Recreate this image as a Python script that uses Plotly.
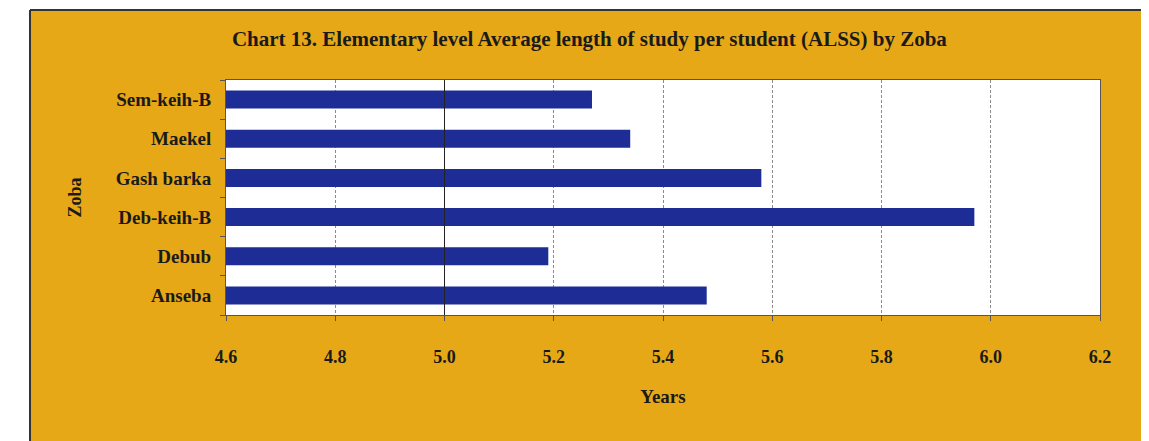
import plotly.graph_objects as go

zobas = ['Anseba', 'Debub', 'Deb-keih-B', 'Gash barka', 'Maekel', 'Sem-keih-B']
alss = [5.48, 5.19, 5.97, 5.58, 5.34, 5.27]
x_ticks = [4.6, 4.8, 5.0, 5.2, 5.4, 5.6, 5.8, 6.0, 6.2]

gold = '#E6A817'
bar_color = '#1E2C96'
serif = 'Liberation Serif'

# the page adds an 8px body margin, so the figure is offset by it
W, H = 1149, 433
ml, mr, mt, mb = 218, 57, 72, 126
pw, ph = W - ml - mr, H - mt - mb

fig = go.Figure()
fig.add_trace(go.Bar(
    x=alss,
    y=zobas,
    orientation='h',
    marker=dict(color=bar_color, line=dict(width=0)),
    width=0.46,
))

# solid reference line at 5.0
fig.add_shape(type='line', xref='x', yref='paper', x0=5.0, x1=5.0, y0=0, y1=1,
              line=dict(color='#222222', width=1))

# white page strip on the left of the scan, plus the frame edges
edge_x = (22 - ml) / pw
top_y = 1 + (mt - 2) / ph
fig.add_shape(type='rect', xref='paper', yref='paper', layer='below',
              x0=-ml / pw, x1=edge_x, y0=-mb / ph, y1=1 + mt / ph,
              fillcolor='white', line=dict(width=0))
fig.add_shape(type='rect', xref='paper', yref='paper', layer='below',
              x0=-ml / pw, x1=1 + mr / pw, y0=top_y, y1=1 + mt / ph,
              fillcolor='white', line=dict(width=0))
fig.add_shape(type='line', xref='paper', yref='paper',
              x0=edge_x, x1=edge_x, y0=-mb / ph, y1=top_y,
              line=dict(color='#333333', width=2))
fig.add_shape(type='line', xref='paper', yref='paper',
              x0=edge_x, x1=1 + mr / pw, y0=top_y, y1=top_y,
              line=dict(color='#333333', width=2))

fig.update_layout(
    width=W, height=H,
    margin=dict(l=ml, r=mr, t=mt, b=mb),
    paper_bgcolor=gold,
    plot_bgcolor='white',
    showlegend=False,
    font=dict(family=serif, color='#1a1a1a'),
    title=dict(
        text='<b>Chart 13. Elementary level Average length of study per student (ALSS) by Zoba</b>',
        x=0.506, xanchor='center', y=0.93, yanchor='middle',
        font=dict(family=serif, size=21, color='#1a1a1a'),
    ),
    xaxis=dict(
        range=[4.6, 6.2],
        tickvals=x_ticks,
        ticktext=['<b>%.1f</b>' % v for v in x_ticks],
        tickfont=dict(family=serif, size=18),
        ticks='outside', ticklen=5, tickcolor='#555555',
        ticklabelstandoff=20,
        showgrid=True, gridcolor='#8a8a8a', griddash='3px,2px', gridwidth=1,
        showline=True, linecolor='#555555', mirror=True,
        zeroline=False,
        title=dict(text='<b>Years</b>', font=dict(family=serif, size=19), standoff=24),
    ),
    yaxis=dict(
        categoryorder='array', categoryarray=zobas,
        tickvals=zobas,
        ticktext=['<b>%s</b>' % z for z in zobas],
        tickfont=dict(family=serif, size=19),
        ticks='outside', ticklen=5, tickcolor='#555555', tickson='boundaries',
        ticklabelstandoff=10,
        showgrid=False,
        showline=True, linecolor='#555555', mirror=True,
        title=dict(text='<b>Zoba</b>', font=dict(family=serif, size=18), standoff=29),
    ),
)

fig.write_html('out.html')
